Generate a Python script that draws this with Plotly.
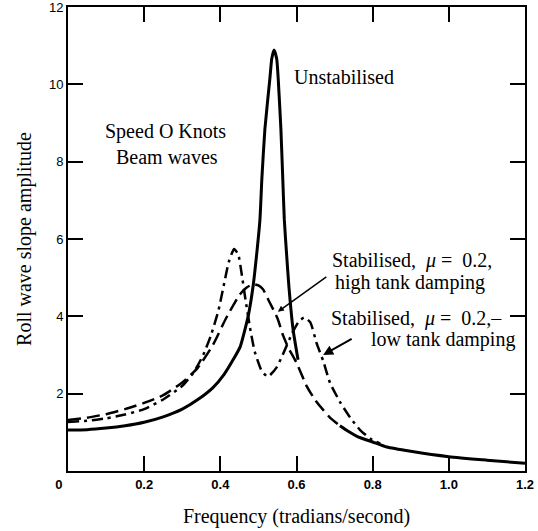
import plotly.graph_objects as go

# Frequency (rad/s) and roll amplitude readings
unstab_x = [0, 0.05, 0.1, 0.15, 0.2, 0.25, 0.3, 0.34, 0.38, 0.41, 0.435, 0.452, 0.473, 0.486,
            0.496, 0.504, 0.509, 0.517, 0.530, 0.535, 0.541, 0.548, 0.552, 0.559, 0.564, 0.568,
            0.574, 0.580, 0.591, 0.604, None, 0.714, 0.74, 0.76, 0.8, 0.837, 0.9, 1.0, 1.1, 1.2]
unstab_y = [1.06, 1.07, 1.11, 1.17, 1.26, 1.40, 1.60, 1.84, 2.15, 2.5, 2.9, 3.21, 4.0, 4.78,
            5.66, 6.5, 7.55, 8.84, 10.14, 10.66, 10.89, 10.66, 10.14, 8.84, 7.55, 6.5,
            5.6, 4.78, 3.66, 2.88, None, 1.17, 1.0, 0.89, 0.75, 0.62, 0.51, 0.37, 0.28, 0.2]

high_x = [0, 0.05, 0.1, 0.15, 0.2, 0.25, 0.3, 0.34, 0.38, 0.415, 0.45, 0.47, 0.486, 0.5,
          0.512, 0.525, 0.55, 0.565, 0.578, 0.6, 0.627, 0.65, 0.67, 0.69, 0.714, 0.73]
high_y = [1.32, 1.38, 1.47, 1.6, 1.76, 1.96, 2.29, 2.66, 3.25, 3.95, 4.55, 4.75, 4.83, 4.8,
          4.7, 4.45, 3.95, 3.5, 3.2, 2.8, 2.19, 1.82, 1.58, 1.36, 1.17, 1.06]

low_x = [0, 0.05, 0.1, 0.15, 0.2, 0.25, 0.3, 0.33, 0.355, 0.375, 0.395, 0.41, 0.422, 0.436,
         0.447, 0.456, 0.465, 0.478, 0.49, 0.509, 0.525, 0.548, 0.568, 0.588, 0.605, 0.62,
         0.636, 0.653, 0.67, 0.688, 0.714, 0.741, 0.767, 0.798, 0.82]
low_y = [1.27, 1.30, 1.36, 1.46, 1.6, 1.85, 2.2, 2.55, 3.0, 3.5, 4.15, 4.85, 5.4, 5.74,
         5.6, 5.1, 4.5, 3.7, 3.1, 2.58, 2.44, 2.68, 3.1, 3.55, 3.85, 3.97,
         3.85, 3.3, 2.85, 2.28, 1.79, 1.38, 1.06, 0.81, 0.71]

x_ticks = [0, 0.2, 0.4, 0.6, 0.8, 1.0, 1.2]
x_ticktext = ["0\u00a0\u00a0\u00a0\u00a0\u00a0", "0.2", "0.4", "0.6", "0.8", "1.0", "1.2"]
y_ticks = [2, 4, 6, 8, 10, 12]

serif = "Liberation Serif"
sans = "Liberation Sans"

fig = go.Figure()
fig.add_trace(go.Scatter(x=unstab_x, y=unstab_y, mode="lines", connectgaps=False,
                         line=dict(color="black", width=3, shape="spline", smoothing=0.5),
                         name="Unstabilised"))
fig.add_trace(go.Scatter(x=high_x, y=high_y, mode="lines",
                         line=dict(color="black", width=2.5, dash="13px,6px", shape="spline", smoothing=0.5),
                         name="high tank damping"))
fig.add_trace(go.Scatter(x=low_x, y=low_y, mode="lines",
                         line=dict(color="black", width=2.5, dash="11px,5px,3px,5px", shape="spline", smoothing=0.5),
                         name="low tank damping"))

ann_font = dict(family=serif, size=20, color="black")
annotations = [
    dict(x=0.725, y=10.2, text="Unstabilised", xanchor="center"),
    dict(x=0.257, y=8.78, text="Speed O Knots", xanchor="center"),
    dict(x=0.261, y=8.13, text="Beam waves", xanchor="center"),
    dict(x=0.688, y=5.45, text="Stabilised,  <i>μ</i> =  0.2,", xanchor="left"),
    dict(x=0.696, y=4.87, text="high tank damping", xanchor="left"),
    dict(x=0.685, y=3.95, text="Stabilised,  <i>μ</i> =  0.2,–", xanchor="left"),
    dict(x=1.179, y=3.40, text="low tank damping", xanchor="right"),
]
for a in annotations:
    fig.add_annotation(xref="x", yref="y", showarrow=False, yanchor="middle", font=ann_font, **a)

# arrows
fig.add_annotation(xref="x", yref="y", x=0.551, y=4.12, ax=50, ay=-36, text="",
                   showarrow=True, arrowhead=2, arrowsize=0.8, arrowwidth=1.5, arrowcolor="black")
fig.add_annotation(xref="x", yref="y", x=0.67, y=3.0, ax=30, ay=-17, text="",
                   showarrow=True, arrowhead=2, arrowsize=1, arrowwidth=2, arrowcolor="black")

fig.update_layout(
    width=538, height=531,
    margin=dict(l=68, r=13, t=7, b=60),
    paper_bgcolor="white", plot_bgcolor="white",
    showlegend=False,
    xaxis=dict(range=[0, 1.2], tickvals=x_ticks, ticktext=x_ticktext, automargin=False,
               ticks="inside", ticklen=15, tickwidth=1.5, tickcolor="black",
               showline=True, linewidth=2, linecolor="black", mirror="allticks",
               showgrid=False, zeroline=False, ticklabeloverflow="allow",
               tickfont=dict(family=sans, size=13, color="black", weight="bold"),
               title=dict(text="Frequency (tradians/second)", standoff=18,
                          font=dict(family=serif, size=20, color="black"))),
    yaxis=dict(range=[0, 12], tickvals=y_ticks, automargin=False,
               ticks="inside", ticklen=15, tickwidth=1.5, tickcolor="black",
               showline=True, linewidth=2, linecolor="black", mirror="allticks",
               showgrid=False, zeroline=False, ticklabeloverflow="allow",
               tickfont=dict(family=sans, size=13, color="black"),
               title=dict(text="Roll wave slope amplitude", standoff=12,
                          font=dict(family=serif, size=20, color="black"))),
)

fig.write_html("out.html", config={"displayModeBar": False},
               post_script="document.body.style.margin='0';")
